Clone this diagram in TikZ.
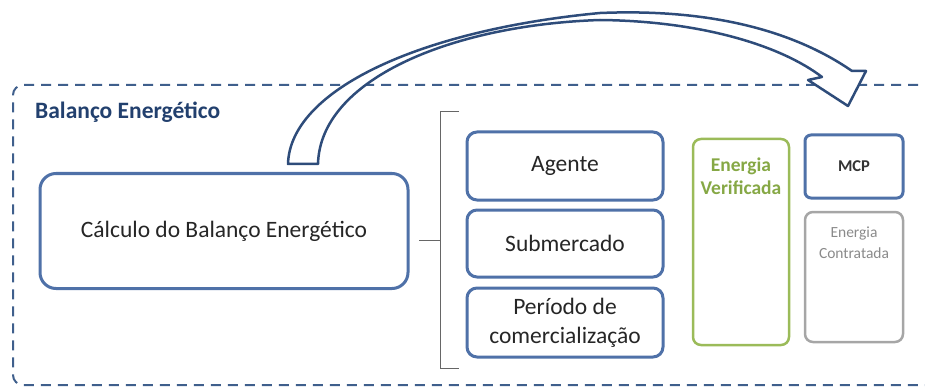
\documentclass[tikz,border=0pt]{standalone}
\usepackage{fontspec}
\setmainfont{Carlito}
\definecolor{frameblue}{HTML}{3F5F8C}
\definecolor{boxblue}{HTML}{4F71A8}
\definecolor{darkblue}{HTML}{2E4C7A}
\definecolor{titleblue}{HTML}{22406E}
\definecolor{vgreen}{HTML}{9BBB59}
\definecolor{vgreentext}{HTML}{86A845}
\definecolor{cgray}{HTML}{A6A6A6}
\definecolor{cgraytext}{HTML}{8A8A8A}
\begin{document}
\begin{tikzpicture}[x=1pt,y=-1pt,
  bluebox/.style={draw=boxblue,line width=3pt,rounded corners=10pt,fill=white},
  txt/.style={font=\fontsize{23.5}{28}\selectfont,text=black!85,align=center}]
\useasboundingbox (0,0) rectangle (925,390);
% dashed frame
\draw[frameblue,line width=2pt,dash pattern=on 10pt off 7pt,rounded corners=10pt]
  (935,85) -- (13,85) -- (13,385) -- (935,385);
\node[anchor=west,font=\bfseries\fontsize{23.5}{26}\selectfont,text=titleblue,inner sep=0pt] (title) at (35,112) {Balanço Energético};
% main box
\node[bluebox,rounded corners=16pt,minimum width=368pt,minimum height=115pt,txt] (calc) at (224,231) {Cálculo do Balanço Energético};
% bracket
\coordinate (bt) at (459,112);
\coordinate (bb) at (459,368);
\coordinate (bm) at (419,240);
\draw[gray!80!black,line width=1pt] (bt) -- (440,112) -- (440,368) -- (bb);
\draw[gray!80!black,line width=1pt] (bm) -- (440,240);
% middle boxes
\node[bluebox,minimum width=196pt,minimum height=68pt,txt] (agente) at (565,166) {Agente};
\node[bluebox,minimum width=196pt,minimum height=67pt,txt] (sub) at (565,243.5) {Submercado};
\node[bluebox,minimum width=196pt,minimum height=69pt,txt,font=\fontsize{23.5}{29}\selectfont,inner sep=0pt] (per) at (565,322.5) {Período de\\comercialização};
% energia verificada
\node[draw=vgreen,line width=2.5pt,rounded corners=8pt,minimum width=96pt,minimum height=206pt] (ver) at (741,242) {};
\node[font=\bfseries\fontsize{19.5}{23}\selectfont,text=vgreentext,align=center,inner sep=0pt] (vert) at (741,176.5) {Energia\\Verificada};
% MCP
\node[draw=boxblue,line width=3pt,rounded corners=6pt,minimum width=98pt,minimum height=63pt,font=\bfseries\fontsize{16.5}{18}\selectfont,text=black!80] (mcp) at (854,166.5) {MCP};
% energia contratada
\node[draw=cgray,line width=2.5pt,rounded corners=8pt,minimum width=98pt,minimum height=130pt] (cont) at (854,277) {};
\node[font=\fontsize{15.5}{21}\selectfont,text=cgraytext,align=center,inner sep=0pt] (contt) at (854,242.5) {Energia\\Contratada};
% curved block arrow
\coordinate (tailL) at (288,164);
\coordinate (tailR) at (318,164);
\coordinate (tip) at (848,106);
\filldraw[draw=darkblue,fill=white,line width=2.5pt,line join=round]
  (tailL) .. controls (290,90) and (420,30) .. (600,13)
  .. controls (720,8) and (800,35) .. (852,71)
  -- (866,71) -- (tip) -- (808,80) -- (822,77)
  .. controls (780,45) and (700,21) .. (600,20)
  .. controls (450,25) and (320,80) .. (tailR) -- cycle;
\end{tikzpicture}
\end{document}
